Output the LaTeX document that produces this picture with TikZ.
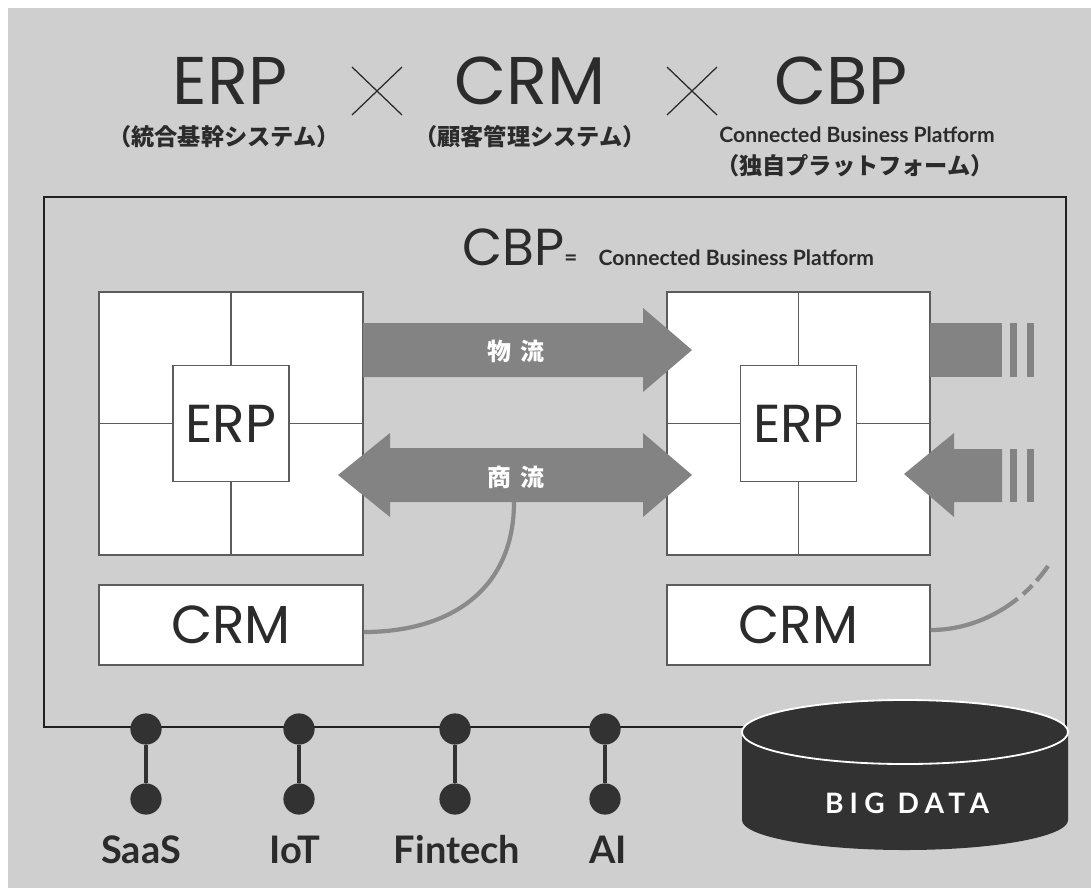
\documentclass[tikz,border=0pt]{standalone}
\usepackage{fontspec}
\setmainfont{Lato}
\newfontfamily\logofont{Poppins}
\newfontfamily\jpfont{Noto Sans CJK JP}
\usetikzlibrary{calc}

\definecolor{panelgray}{HTML}{CFCFCF}
\definecolor{flowgray}{HTML}{838383}
\definecolor{inkgray}{HTML}{2B2B2B}
\definecolor{rulegray}{HTML}{5C5C5C}
\definecolor{diskgray}{HTML}{323232}
\definecolor{linkgray}{HTML}{8A8A8A}

\def\crossmark(#1,#2){\draw[crossline] (#1-25,#2-24) -- (#1+25,#2+24) (#1-25,#2+24) -- (#1+25,#2-24);}

\tikzset{
	title/.style={font=\logofont\fontsize{48}{48}\selectfont, text=inkgray, inner sep=0pt, text depth=0pt, anchor=base},
	subtitle/.style={font=\jpfont\bfseries\fontsize{16.5}{17}\selectfont, text=inkgray, inner sep=0pt},
	tagline/.style={font=\bfseries\fontsize{15}{15}\selectfont, text=inkgray, inner sep=0pt},
	crossline/.style={line width=0.9pt, color=inkgray},
	frame/.style={line width=2.1pt, color=black!87},
	cell/.style={draw=rulegray, line width=0.9pt, fill=white, inner sep=0pt},
	boxlabel/.style={font=\logofont\fontsize{38}{38}\selectfont, text=inkgray},
	flow/.style={fill=flowgray},
	flowtext/.style={font=\jpfont\bfseries\fontsize{17}{17}\selectfont, text=white, inner sep=0pt},
	link/.style={line width=3pt, color=linkgray},
	dot/.style={circle, fill=diskgray, minimum size=0.78cm, inner sep=0pt},
	stem/.style={line width=2.8pt, color=diskgray},
	techlabel/.style={font=\bfseries\fontsize{27}{27}\selectfont, text=inkgray, inner sep=0pt, anchor=base},
}

\begin{document}
\begin{tikzpicture}[x=0.025cm, y=-0.025cm]
		%%%%% START %%%%%
		\useasboundingbox (0,0) rectangle (1091,888);
		\fill[white] (0,0) rectangle (1091,888);
		\fill[panelgray] (8,8) rectangle (1091,888);
		
		% heading
		\node[title] (erpT) at (230,104) {ERP};
		\node[title] (crmT) at (530,104) {CRM};
		\node[title] (cbpT) at (841,104) {CBP};
		\crossmark(377,91)
		\crossmark(692,91)
		\node[subtitle] (erpSub) at (224,137) {（統合基幹システム）};
		\node[subtitle] (crmSub) at (530,137) {（顧客管理システム）};
		\node[tagline] (cbpSub) at (857,135) {Connected Business Platform};
		\node[subtitle] (cbpJp) at (855,166) {（独自プラットフォーム）};
		
		% platform frame
		\draw[frame] (44,197) rectangle (1066,727);
		\node[anchor=base west, inner sep=0pt, text=inkgray] (cbpName) at (462,265)
			{{\logofont\fontsize{37}{37}\selectfont CBP}{\bfseries\fontsize{16}{16}\selectfont =}\hspace{15pt}{\bfseries\fontsize{15}{15}\selectfont Connected Business Platform}};
		
		% left company
		\node[cell, minimum width=6.6cm, minimum height=6.575cm] (erpL) at (231,423.5) {};
		\draw[rulegray, line width=0.9pt] (erpL.north) -- (erpL.south) (erpL.west) -- (erpL.east);
		\node[cell, boxlabel, minimum size=2.9cm] (coreL) at (erpL.center) {ERP};
		\node[cell, boxlabel, minimum width=6.6cm, minimum height=2cm] (crmL) at (231,625) {CRM};
		
		% right company
		\node[cell, minimum width=6.575cm, minimum height=6.575cm] (erpR) at (798.5,423.5) {};
		\draw[rulegray, line width=0.9pt] (erpR.north) -- (erpR.south) (erpR.west) -- (erpR.east);
		\node[cell, boxlabel, minimum size=2.9cm] (coreR) at (erpR.center) {ERP};
		\node[cell, boxlabel, minimum width=6.575cm, minimum height=2cm] (crmR) at (798.5,625) {CRM};
		
		% flows between the two
		\fill[flow] (363,323) -- (643,323) -- (643,308) -- (692,350) -- (643,392) -- (643,377) -- (363,377) -- cycle;
		\node[flowtext] (logi) at (516,351) {物\hspace{7pt}流};
		\fill[flow] (338,475) -- (390,433) -- (390,448) -- (643,448) -- (643,433) -- (692,475)
			-- (643,517) -- (643,502) -- (390,502) -- (390,517) -- cycle;
		\node[flowtext] (comm) at (516,477) {商\hspace{7pt}流};
		
		% flows leaving to the right
		\fill[flow] (930,323) rectangle (1002,377);
		\fill[flow] (904,474) -- (954,433) -- (954,449) -- (1002,449) -- (1002,502) -- (954,502) -- (954,517) -- cycle;
		\foreach \x in {1010,1027} {
			\fill[flow] (\x,323) rectangle (\x+7,377);
			\fill[flow] (\x,449) rectangle (\x+7,502);
		}
		
		% links to the crm boxes
		\coordinate (commFoot) at (514,502);
		\draw[link] (commFoot) .. controls (514,590) and (450,632) .. ($(crmL.east)+(0,7)$);
		\coordinate (crmOut) at (1048,566);
		\draw[link, dash pattern=on 67pt off 5pt on 9pt off 4.5pt on 14pt off 80pt]
			($(crmR.east)+(0,5)$) .. controls (982,630) and (1025,600) .. (crmOut);
		
		% big data
		\fill[diskgray] (742,732) -- (742,820) arc[start angle=180, end angle=360, x radius=4.075cm, y radius=0.75cm] -- (1068,732) -- cycle;
		\draw[white, fill=diskgray, line width=1.3pt] (905,732) ellipse [x radius=4.075cm, y radius=0.8cm];
		\node[text=white, font=\bfseries\addfontfeature{LetterSpace=22}\fontsize{20}{20}\selectfont] (bigData) at (907,803) {BIG DATA};
		
		% services on the bus
		\foreach \x/\lx/\name/\lbl in {146/141/saas/SaaS, 299/295/iot/IoT, 455/457/fin/Fintech, 605/608/ai/AI} {
			\node[dot] (\name Top) at (\x,729) {};
			\node[dot] (\name Bot) at (\x,799) {};
			\draw[stem] (\name Top) -- (\name Bot);
			\node[techlabel] (\name Lbl) at (\lx,863) {\lbl};
		}
		
		%%%%% END %%%%%
	\end{tikzpicture}
\end{document}
